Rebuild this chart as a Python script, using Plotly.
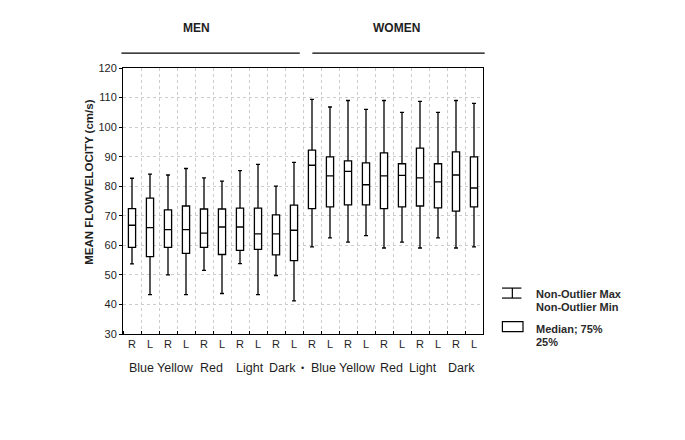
import plotly.graph_objects as go

# ---------------- data ----------------
groups = ["MEN", "WOMEN"]
colours = ["Blue", "Yellow", "Red", "Light", "Dark"]
sides = ["R", "L"]

upper = [82.7, 84.1, 83.8, 86.0, 82.8, 81.7, 85.3, 87.4, 80.0, 88.1,
         109.4, 106.8, 109.0, 106.0, 109.0, 105.0, 108.7, 105.0, 109.0, 108.0]
q3 = [72.4, 76.0, 72.0, 73.3, 72.3, 72.3, 72.6, 72.6, 70.3, 73.6,
      92.2, 89.9, 88.6, 87.9, 91.3, 87.6, 92.9, 87.6, 91.6, 89.9]
median = [66.8, 66.0, 65.3, 65.3, 64.1, 66.2, 66.2, 63.9, 63.9, 65.1,
          87.1, 83.5, 85.0, 80.5, 83.5, 83.7, 82.8, 81.5, 83.8, 79.4]
q1 = [59.3, 56.2, 59.3, 57.3, 59.3, 56.9, 58.3, 58.6, 56.8, 54.8,
      72.4, 73.0, 73.7, 73.7, 72.4, 73.0, 73.3, 72.7, 71.6, 73.0]
lower = [53.7, 43.3, 50.0, 43.3, 51.5, 43.7, 53.8, 43.3, 49.8, 41.2,
         59.5, 62.5, 61.1, 63.3, 59.1, 61.1, 59.1, 62.5, 59.1, 59.5]

ylabels_title = "MEAN FLOWVELOCITY (cm/s)"
legend_whisker = ["Non-Outlier Max", "Non-Outlier Min"]
legend_box = ["Median; 75%", "25%"]

# ---------------- build ----------------
n = len(median)
positions = list(range(n))
tick_text = [sides[i % 2] for i in range(n)]

FONT = "Liberation Sans, Arial, sans-serif"
TXT = "#1e1e1e"

fig = go.Figure()
fig.add_trace(go.Box(
    x=positions, q1=q1, median=median, q3=q3,
    lowerfence=lower, upperfence=upper,
    width=0.4, whiskerwidth=0.55,
    fillcolor="white",
    line=dict(color="black", width=1.3),
    boxpoints=False, showlegend=False, hoverinfo="skip",
))

grid = "#cccccc"
fig.update_layout(
    width=669, height=424,
    margin=dict(l=115.3, r=193.7, t=59.5, b=98),
    paper_bgcolor="white", plot_bgcolor="white",
    font=dict(family=FONT, color=TXT),
    showlegend=False,
    xaxis=dict(
        range=[-0.5, n - 0.5],
        tickmode="array", tickvals=positions, ticktext=tick_text,
        ticks="", showgrid=False, zeroline=False,
        showline=True, mirror=True, linecolor="black", linewidth=1,
        tickfont=dict(size=11, family="Liberation Sans", color=TXT),
        minor=dict(tick0=0.5, dtick=1, showgrid=True, gridcolor=grid,
                   griddash="dot", gridwidth=1, ticks="inside", ticklen=3,
                   tickcolor="black"),
        fixedrange=True,
    ),
    yaxis=dict(
        range=[30, 120], tickmode="linear", tick0=30, dtick=10,
        ticks="outside", ticklen=3, tickcolor="black",
        showgrid=True, gridcolor=grid, griddash="dot", gridwidth=1,
        zeroline=False, showline=True, mirror=True,
        linecolor="black", linewidth=1,
        tickfont=dict(size=11, family="Liberation Sans", color=TXT),
        fixedrange=True,
    ),
)

# y title
fig.add_annotation(text="<b>%s</b>" % ylabels_title, textangle=-90,
                   xref="paper", yref="paper", x=-0.0953, y=0.571,
                   xanchor="center", yanchor="middle",
                   showarrow=False, font=dict(size=11.5, color=TXT))

# group headers and lines
for gi, g in enumerate(groups):
    fig.add_annotation(text="<b>%s</b>" % g, xref="paper", yref="paper",
                       x=[0.204, 0.759][gi], y=1.151, xanchor="center",
                       yanchor="middle", showarrow=False,
                       font=dict(size=12, color=TXT))
fig.add_shape(type="line", xref="paper", yref="paper", x0=-0.0044, x1=0.491,
              y0=1.056, y1=1.056, line=dict(color="black", width=1.2))
fig.add_shape(type="line", xref="paper", yref="paper", x0=0.526, x1=1.0046,
              y0=1.056, y1=1.056, line=dict(color="black", width=1.2))

# colour labels under the R/L pairs
shifts = [[0, -2, -2, 1, -3], [2, 0, -2, -6, -4]]
for gi in range(len(groups)):
    for ci, c in enumerate(colours):
        xpos = gi * 2 * len(colours) + 2 * ci + 0.5
        fig.add_annotation(text=c, xref="x", yref="paper", x=xpos, y=-0.1265,
                           xanchor="center", yanchor="middle",
                           xshift=shifts[gi][ci],
                           showarrow=False, font=dict(size=12.5, color=TXT))
fig.add_annotation(text="•", xref="x", yref="paper", x=len(colours) * 2 - 0.5,
                   y=-0.1265, xanchor="center", yanchor="middle", xshift=-1,
                   showarrow=False, font=dict(size=9, color=TXT))

# legend (drawn)
lw = dict(color="black", width=1.2)
fig.add_shape(type="line", xref="paper", yref="paper", x0=1.0528, x1=1.1067,
              y0=0.1726, y1=0.1726, line=lw)
fig.add_shape(type="line", xref="paper", yref="paper", x0=1.0528, x1=1.1067,
              y0=0.1351, y1=0.1351, line=lw)
fig.add_shape(type="line", xref="paper", yref="paper", x0=1.0815, x1=1.0815,
              y0=0.1351, y1=0.1726, line=lw)
fig.add_shape(type="rect", xref="paper", yref="paper", x0=1.0539, x1=1.1111,
              y0=0.0086, y1=0.0462, line=lw, fillcolor="white")
leg_items = [(legend_whisker[0], 0.150), (legend_whisker[1], 0.103),
             (legend_box[0], 0.018), (legend_box[1], -0.030)]
for t, yy in leg_items:
    fig.add_annotation(text="<b>%s</b>" % t, xref="paper", yref="paper",
                       x=1.1408, y=yy, xanchor="left", yanchor="middle",
                       showarrow=False,
                       font=dict(size=11, color="#2a2a2a"))

fig.write_html("out.html")
